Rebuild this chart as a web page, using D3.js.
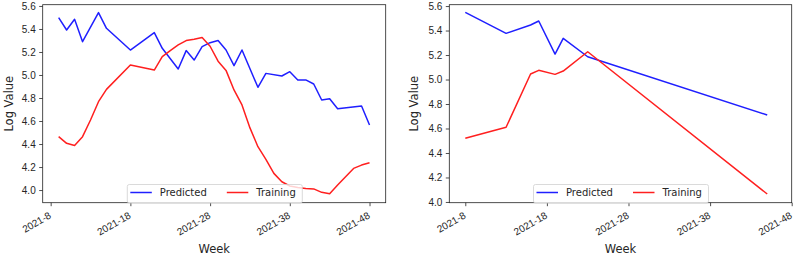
<!DOCTYPE html>
<html>
<head>
<meta charset="utf-8">
<script src="https://cdn.jsdelivr.net/npm/d3@7"></script>
<style>
  body { margin: 0; background: #fff; }
  svg { display: block; font-family: "DejaVu Sans", sans-serif; }
</style>
</head>
<body>
<svg id="chart" width="793" height="256"></svg>
<script>
// Dữ liệu biểu đồ trái
const predWeeksA = [9, 10, 11, 12, 14, 15, 18, 21, 22, 24, 25, 26, 27, 28, 29, 30, 31, 32, 34, 35, 37, 38, 39, 40, 41, 42, 43, 44, 47, 48];
const predA = [5.499, 5.391, 5.484, 5.29, 5.542, 5.406, 5.217, 5.368, 5.232, 5.052, 5.212, 5.13, 5.246, 5.281, 5.299, 5.217, 5.081, 5.217, 4.893, 5.014, 4.991, 5.029, 4.957, 4.957, 4.922, 4.783, 4.794, 4.707, 4.73, 4.565];
const trainWeeksA = [9, 10, 11, 12, 13, 14, 15, 18, 21, 22, 23, 24, 25, 26, 27, 28, 29, 30, 31, 32, 33, 34, 35, 36, 37, 38, 39, 40, 41, 42, 43, 44, 45, 46, 47, 48];
const trainA = [4.464, 4.406, 4.388, 4.464, 4.609, 4.768, 4.875, 5.087, 5.043, 5.159, 5.212, 5.261, 5.299, 5.31, 5.325, 5.25, 5.12, 5.04, 4.87, 4.74, 4.54, 4.377, 4.267, 4.145, 4.072, 4.035, 4.022, 4.014, 4.01, 3.98, 3.968, 4.044, 4.116, 4.188, 4.217, 4.238];

// Dữ liệu biểu đồ phải
const weeksB = [8, 13, 16, 17, 19, 20, 23, 45];
const predB = [5.549, 5.377, 5.445, 5.478, 5.208, 5.336, 5.186, 4.71];
const trainB = [4.52, 4.61, 5.045, 5.075, 5.042, 5.069, 5.227, 4.065];

const xTicks = [8, 18, 28, 38, 48];
const yTicks = [4.0, 4.2, 4.4, 4.6, 4.8, 5.0, 5.2, 5.4, 5.6];
const seriesNames = ["Predicted", "Training"];
const seriesColors = ["#1f1fff", "#ff1f1f"];

const svg = d3.select("#chart");

function drawPanel(cfg) {
    const width = cfg.right - cfg.left;
    const height = cfg.bottom - cfg.top;
    const g = svg.append("g").attr("transform", `translate(${cfg.left},${cfg.top})`);

    const x = d3.scaleLinear().domain(cfg.xDomain).range([0, width]);
    const y = d3.scaleLinear().domain(cfg.yDomain).range([height, 0]);

    // Trục X
    const xAxis = g.append("g")
        .attr("transform", `translate(0,${height})`)
        .call(d3.axisBottom(x).tickValues(xTicks).tickFormat(d => "2021-" + d).tickSize(3.5));
    xAxis.select(".domain").remove();
    xAxis.selectAll("line").attr("stroke", "#222").attr("stroke-width", 0.8);
    xAxis.selectAll("text")
        .attr("text-anchor", "end")
        .attr("fill", "#262626")
        .style("font-size", "10px")
        .attr("y", 0)
        .attr("dy", "0.74em")
        .attr("transform", "translate(-3,8.3) rotate(-30)");

    // Trục Y
    const yAxis = g.append("g")
        .call(d3.axisLeft(y).tickValues(yTicks).tickFormat(d3.format(".1f")).tickSize(3.5).tickPadding(3.5));
    yAxis.select(".domain").remove();
    yAxis.selectAll("line").attr("stroke", "#222").attr("stroke-width", 0.8);
    yAxis.selectAll("text").attr("fill", "#262626").style("font-size", "10px");

    // Đường dữ liệu
    const line = d3.line().x(d => x(d[0])).y(d => y(d[1]));
    cfg.series.forEach((s, i) => {
        g.append("path")
            .datum(d3.zip(s.weeks, s.values))
            .attr("fill", "none")
            .attr("stroke", seriesColors[i])
            .attr("stroke-width", 1.5)
            .attr("stroke-linejoin", "round")
            .attr("d", line);
    });

    // Khung
    g.append("rect")
        .attr("width", width)
        .attr("height", height)
        .attr("fill", "none")
        .attr("stroke", "#222")
        .attr("stroke-width", 0.8);

    // Chú thích
    const leg = g.append("g").attr("transform", `translate(${cfg.legendX},${184.5 - cfg.top})`);
    leg.append("rect")
        .attr("width", 175)
        .attr("height", 18.5)
        .attr("rx", 2)
        .attr("fill", "white")
        .attr("fill-opacity", 0.8)
        .attr("stroke", "#d0d0d0")
        .attr("stroke-width", 0.8);
    seriesNames.forEach((name, i) => {
        const ox = 3 + i * 96.5;
        leg.append("line")
            .attr("x1", ox).attr("x2", ox + 21.5)
            .attr("y1", 8).attr("y2", 8)
            .attr("stroke", seriesColors[i])
            .attr("stroke-width", 1.5);
        leg.append("text")
            .attr("x", ox + 29.5)
            .attr("y", 11.6)
            .attr("fill", "#262626")
            .style("font-size", "10px")
            .text(name);
    });

    // Tên trục
    g.append("text")
        .attr("text-anchor", "middle")
        .attr("x", width / 2)
        .attr("y", 253 - cfg.top)
        .attr("fill", "#262626")
        .style("font-size", "11.5px")
        .text("Week");
    g.append("text")
        .attr("text-anchor", "middle")
        .attr("transform", "rotate(-90)")
        .attr("x", -height / 2)
        .attr("y", cfg.ylabelX - cfg.left)
        .attr("fill", "#262626")
        .style("font-size", "11.5px")
        .text("Log Value");
}

drawPanel({
    left: 42.7, right: 385.7, top: 4.7, bottom: 202.7,
    xDomain: [7.0, 50.03], yDomain: [3.890, 5.611],
    legendX: 127.3 - 42.7, ylabelX: 12.5,
    series: [{ weeks: predWeeksA, values: predA }, { weeks: trainWeeksA, values: trainA }]
});

drawPanel({
    left: 449.3, right: 791.7, top: 4.7, bottom: 202.7,
    xDomain: [6.04, 48.0], yDomain: [3.994, 5.611],
    legendX: 533.5 - 449.3, ylabelX: 417.5,
    series: [{ weeks: weeksB, values: predB }, { weeks: weeksB, values: trainB }]
});
</script>
</body>
</html>
